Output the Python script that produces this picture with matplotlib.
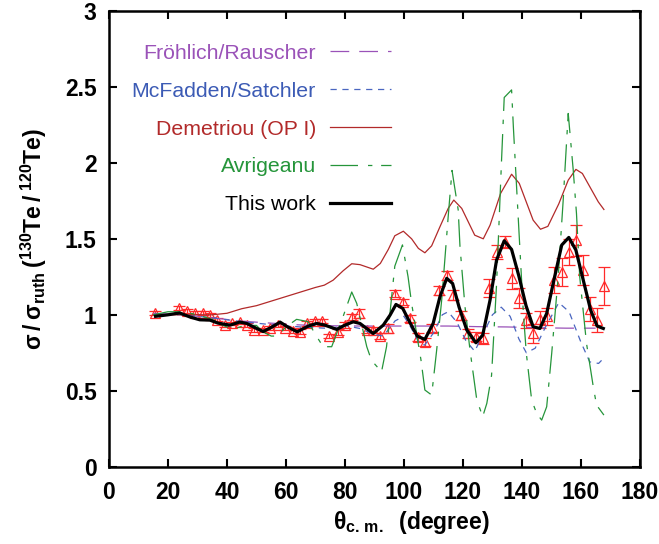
import matplotlib
matplotlib.use("Agg")
import matplotlib.pyplot as plt
import numpy as np

plt.rcParams['font.family'] = ['Liberation Sans', 'DejaVu Sans']
plt.rcParams['mathtext.fontset'] = 'custom'
plt.rcParams['mathtext.rm'] = 'Liberation Sans'
plt.rcParams['mathtext.bf'] = 'Liberation Sans:bold'
plt.rcParams['mathtext.it'] = 'Liberation Sans:italic'

# Experimental data
exp_theta = [15.7, 23.8, 26.5, 29.2, 31.8, 34.2, 36.5, 39.2, 41.8, 44.4, 46.7, 49.2, 52.1, 54.6,
             57.4, 59.8, 62.3, 64.7, 67.0, 69.8, 72.1, 74.7, 77.5, 80.0, 82.3, 84.7, 87.4, 89.6,
             91.9, 94.5, 96.9, 99.8, 102.2, 104.6, 107.1, 109.6, 112.0, 114.5, 116.7, 119.2,
             121.8, 124.4, 126.7, 128.9, 131.4, 134.2, 136.5, 138.9, 141.4, 143.6, 146.1, 148.6,
             151.0, 153.5, 155.9, 158.3, 160.8, 163.0, 165.5, 168.0]
exp_ratio = [1.01, 1.045, 1.026, 1.015, 1.013, 1.0, 0.968, 0.93, 0.943, 0.95, 0.932, 0.90, 0.90, 0.915,
             0.93, 0.915, 0.895, 0.89, 0.943, 0.958, 0.958, 0.86, 0.888, 0.932, 0.987, 1.009, 0.90, 0.90,
             0.86, 0.91, 1.14, 1.085, 0.976, 0.855, 0.82, 0.914, 1.162, 1.26, 1.13, 0.998,
             0.877, 0.855, 0.845, 1.174, 1.414, 1.48, 1.24, 1.108, 0.965, 0.877, 0.97, 0.99,
             1.228, 1.283, 1.414, 1.49, 1.294, 1.04, 0.965, 1.19]
exp_err = [0.012, 0.012, 0.012, 0.012, 0.012, 0.012, 0.012, 0.012, 0.012, 0.012, 0.012, 0.012, 0.012, 0.012,
           0.012, 0.012, 0.015, 0.015, 0.015, 0.015, 0.015, 0.015, 0.02, 0.02, 0.02, 0.03, 0.02, 0.02,
           0.02, 0.03, 0.02, 0.02, 0.025, 0.025, 0.025, 0.025, 0.03, 0.03, 0.03, 0.03,
           0.03, 0.03, 0.035, 0.06, 0.045, 0.04, 0.068, 0.066, 0.05, 0.06, 0.058, 0.055,
           0.085, 0.094, 0.085, 0.1, 0.1, 0.08, 0.08, 0.127]

# This work
fit_theta = [15.8, 20, 24, 27.5, 30.8, 34.2, 37, 41, 44.4, 46.7, 49.5, 52.3, 55.3, 58, 60.5, 63.8,
             67.6, 70.4, 73.2, 77.2, 80, 82.8, 85.1, 89.6, 93, 95.3, 97.3, 99.6, 102, 104.5, 107.1,
             109.9, 112.2, 114.5, 116.5, 118.7, 121.3, 124.4, 126.7, 129.2, 131.4, 134, 136.5,
             138.9, 141.4, 143.8, 146.1, 148.4, 150.6, 153.5, 155.9, 158.3, 160.8, 163.3, 165.5, 167.6]
fit_ratio = [0.99, 1.0, 1.012, 0.985, 0.967, 0.965, 0.945, 0.932, 0.952, 0.943, 0.915, 0.89, 0.92, 0.952,
             0.921, 0.888, 0.926, 0.943, 0.932, 0.904, 0.932, 0.954, 0.943, 0.877, 0.932, 0.998, 1.068,
             1.042, 0.95, 0.86, 0.838, 0.943, 1.118, 1.24, 1.206, 1.05, 0.9, 0.816, 0.866, 1.097, 1.36,
             1.487, 1.43, 1.26, 1.06, 0.921, 0.91, 1.009, 1.206, 1.459, 1.509, 1.426, 1.228, 1.031,
             0.926, 0.91]

# Demetriou (OP I)
dem_theta = [15, 25, 35, 40, 45, 50, 55, 60, 65, 70, 73, 76, 79.4, 82.3, 85.1, 89.6, 92, 94.7, 96.9,
             99.8, 102.6, 104.9, 107.1, 109.4, 112.2, 115, 116.9, 119.6, 124, 126.9, 129.2, 132.8,
             136.5, 139.1, 143.8, 146.3, 148.8, 152.5, 155.7, 158.3, 160.5, 165.9, 167.8]
dem_ratio = [1.0, 1.0, 1.0, 1.01, 1.04, 1.06, 1.09, 1.12, 1.15, 1.18, 1.195, 1.228, 1.29, 1.336, 1.33,
             1.30, 1.338, 1.43, 1.52, 1.55, 1.5, 1.437, 1.408, 1.454, 1.579, 1.70, 1.755, 1.70, 1.524,
             1.50, 1.59, 1.80, 1.925, 1.865, 1.623, 1.563, 1.582, 1.73, 1.886, 1.957, 1.93, 1.743, 1.693]

# Froehlich/Rauscher
fro_theta = [15, 25, 35, 45, 55, 65, 75, 85, 95, 105, 115, 125, 135, 145, 155, 165]
fro_ratio = [1.01, 1.0, 0.98, 0.958, 0.945, 0.933, 0.928, 0.926, 0.926, 0.926, 0.926, 0.922, 0.92,
             0.915, 0.912, 0.912]

# McFadden/Satchler
mcf_theta = [15, 25, 35, 45, 55, 65, 75, 80, 85, 90, 93, 97, 100, 102, 105, 107, 110, 113, 115, 118,
             121, 124, 127, 130, 133, 136, 139, 141.5, 144.5, 148, 152.5, 156, 160, 163, 166, 167]
mcf_ratio = [1.0, 1.0, 0.98, 0.955, 0.935, 0.92, 0.91, 0.93, 0.91, 0.87, 0.86, 0.96, 0.99, 0.93, 0.82,
             0.80, 0.88, 1.0, 1.02, 0.95, 0.83, 0.76, 0.88, 1.0, 1.05, 0.99, 0.84, 0.75, 0.78, 0.92,
             1.08, 1.02, 0.82, 0.69, 0.68, 0.70]

# Avrigeanu
avr_theta = [15, 20, 25, 30, 35, 38, 42, 46, 50, 52, 55, 57, 60, 63.6, 67.5, 70, 72.6, 75.5, 79.4,
             82.3, 84, 87.4, 89, 92.4, 94.1, 96.9, 99.5, 101.4, 102.6, 105.8, 107.1, 109.4, 111.1,
             112.8, 115, 116.3, 118.4, 119, 120.7, 122.4, 124.7, 126.7, 128.1, 129.7, 131.4, 133.1,
             134, 136.5, 137.1, 139.4, 140.5, 141.5, 143.3, 145, 146.7, 148.4, 150.1, 152.3, 154,
             155.7, 157.4, 158.5, 159.6, 161.9, 164.2, 165.3, 167.8]
avr_ratio = [1.0, 1.02, 1.02, 1.0, 0.97, 0.935, 0.905, 0.93, 0.93, 0.89, 0.86, 0.86, 0.92, 0.97, 0.955,
             0.87, 0.79, 0.79, 0.99, 1.15, 1.075, 0.79, 0.70, 0.625, 0.79, 1.32, 1.46, 1.25, 1.075,
             0.70, 0.505, 0.472, 0.768, 1.097, 1.645, 1.95, 1.69, 1.45, 1.053, 0.768, 0.44, 0.33,
             0.417, 0.6, 1.2, 2.02, 2.43, 2.48, 2.237, 1.404, 1.009, 0.746, 0.439, 0.351, 0.307,
             0.395, 0.746, 1.25, 1.755, 2.325, 1.952, 1.667, 1.25, 0.812, 0.526, 0.406, 0.34]

fig = plt.figure(figsize=(6.59, 5.44), dpi=100)
ax = fig.add_axes([0.1654, 0.142, 0.8056, 0.838])

ax.errorbar(exp_theta, exp_ratio, yerr=exp_err, fmt='^', color='#ff2a2a', mfc='none', mec='#ff2a2a',
            ms=7.5, mew=0.9, elinewidth=0.9, capsize=4, capthick=0.9, zorder=2)

ax.plot(fro_theta, fro_ratio, color='#9a52b8', lw=0.9, dashes=(15, 8), label='Fröhlich/Rauscher', zorder=3)
ax.plot(mcf_theta, mcf_ratio, color='#4a66c0', lw=0.9, dashes=(5, 4.5), label='McFadden/Satchler', zorder=3)
ax.plot(dem_theta, dem_ratio, color='#b22a2a', lw=0.9, label='Demetriou (OP I)', zorder=3)
ax.plot(avr_theta, avr_ratio, color='#25953a', lw=0.9, dashes=(22, 8, 3.5, 7), label='Avrigeanu', zorder=3)
ax.plot(fit_theta, fit_ratio, color='black', lw=2.3, label='This work', zorder=4)

ax.set_xlim(0, 180)
ax.set_ylim(0, 3)
ax.set_xticks(np.arange(0, 181, 20))
ax.set_yticks([0, 0.5, 1, 1.5, 2, 2.5, 3])
ax.set_yticklabels(['0', '0.5', '1', '1.5', '2', '2.5', '3'])
ax.tick_params(direction='in', top=True, right=True, length=6, width=1.5, labelsize=16.5)
ax.tick_params(axis='x', pad=10)
ax.tick_params(axis='y', pad=9)
for lab in ax.get_xticklabels() + ax.get_yticklabels():
    lab.set_fontweight('bold')
for sp in ax.spines.values():
    sp.set_linewidth(1.8)

ax.set_xlabel(r'$\mathbf{\theta_{c.\,m.}}$  (degree)', fontsize=16.5, fontweight='bold')
ax.xaxis.set_label_coords(0.569, -0.093)
ax.set_ylabel(r'$\mathbf{\sigma\:/\:\sigma_{ruth}\:(^{130}Te\:/\:^{120}Te)}$', fontsize=16.5,
              fontweight='bold')
ax.yaxis.set_label_coords(-0.113, 0.5)

leg = ax.legend(loc='upper right', bbox_to_anchor=(0.532, 0.928), frameon=False, markerfirst=False,
                fontsize=15.3, handlelength=2.9, handletextpad=0.65, labelspacing=0.89, borderpad=0,
                borderaxespad=0)
text_colors = ['#9a52b8', '#3c5bb5', '#b22a2a', '#25953a', 'black']
for t, c in zip(leg.get_texts(), text_colors):
    t.set_color(c)

fig.savefig('out.png', dpi=100)
